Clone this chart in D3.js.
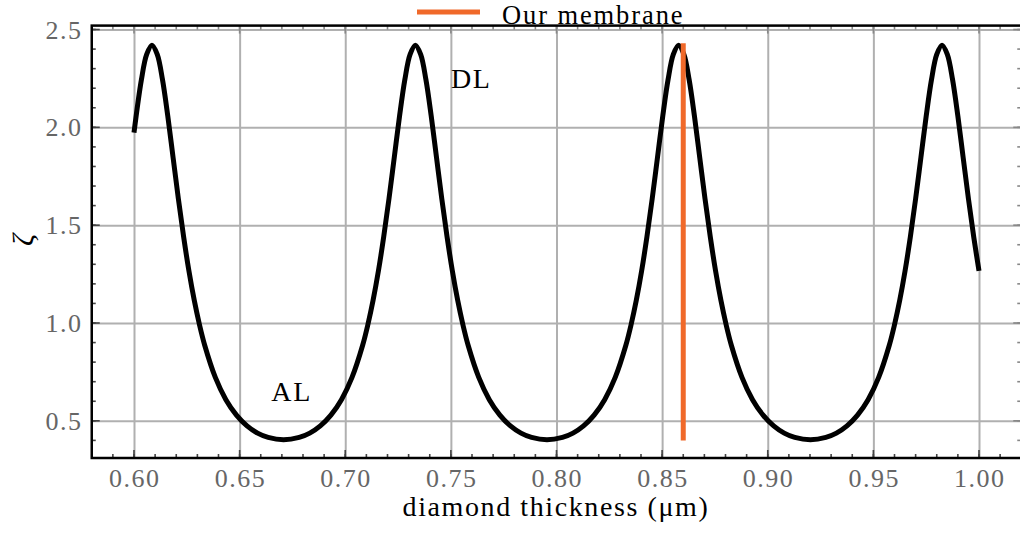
<!DOCTYPE html>
<html>
<head>
<meta charset="utf-8">
<script src="https://cdn.jsdelivr.net/npm/d3@7"></script>
<style>
  body { margin: 0; background: #fff; }
  svg { display: block; }
  text { font-family: "Liberation Serif", "Times New Roman", serif; }
</style>
</head>
<body>
<div class="chart"></div>
<script>
// curve: thickness (um) and zeta
var thickness = [
  0.6000, 0.6035, 0.6060, 0.6085, 0.6110, 0.6135, 0.6160, 0.6185, 0.6210, 0.6235, 0.6260, 0.6285,
  0.6310, 0.6335, 0.6385, 0.6435, 0.6485, 0.6535, 0.6585, 0.6635, 0.6708, 0.6782, 0.6832, 0.6882,
  0.6932, 0.6982, 0.7032, 0.7082, 0.7107, 0.7132, 0.7157, 0.7182, 0.7207, 0.7232, 0.7257, 0.7282,
  0.7307, 0.7332, 0.7357, 0.7382, 0.7407, 0.7432, 0.7457, 0.7482, 0.7507, 0.7532, 0.7557, 0.7582,
  0.7632, 0.7682, 0.7732, 0.7782, 0.7832, 0.7882, 0.7955, 0.8028, 0.8078, 0.8128, 0.8178, 0.8228,
  0.8278, 0.8328, 0.8353, 0.8378, 0.8403, 0.8428, 0.8453, 0.8478, 0.8503, 0.8528, 0.8553, 0.8578,
  0.8603, 0.8628, 0.8653, 0.8678, 0.8703, 0.8728, 0.8753, 0.8778, 0.8803, 0.8828, 0.8878, 0.8928,
  0.8978, 0.9028, 0.9078, 0.9128, 0.9202, 0.9275, 0.9325, 0.9375, 0.9425, 0.9475, 0.9525, 0.9575,
  0.9600, 0.9625, 0.9650, 0.9675, 0.9700, 0.9725, 0.9750, 0.9775, 0.9800, 0.9825, 0.9850, 0.9875,
  0.9900, 0.9925, 0.9950, 0.9975, 1.0000
];
var zeta = [
  1.973, 2.243, 2.373, 2.420, 2.373, 2.243, 2.057, 1.846, 1.635, 1.440, 1.266, 1.117,
  0.991, 0.885, 0.722, 0.608, 0.529, 0.474, 0.437, 0.415, 0.403, 0.415, 0.437, 0.474,
  0.529, 0.608, 0.722, 0.885, 0.991, 1.117, 1.266, 1.440, 1.635, 1.846, 2.057, 2.243,
  2.373, 2.420, 2.373, 2.243, 2.057, 1.846, 1.635, 1.440, 1.266, 1.117, 0.991, 0.885,
  0.722, 0.608, 0.529, 0.474, 0.437, 0.415, 0.403, 0.415, 0.437, 0.474, 0.529, 0.608,
  0.722, 0.885, 0.991, 1.117, 1.266, 1.440, 1.635, 1.846, 2.057, 2.243, 2.373, 2.420,
  2.373, 2.243, 2.057, 1.846, 1.635, 1.440, 1.266, 1.117, 0.991, 0.885, 0.722, 0.608,
  0.529, 0.474, 0.437, 0.415, 0.403, 0.415, 0.437, 0.474, 0.529, 0.608, 0.722, 0.885,
  0.991, 1.117, 1.266, 1.440, 1.635, 1.846, 2.057, 2.243, 2.373, 2.420, 2.373, 2.243,
  2.057, 1.846, 1.635, 1.440, 1.266
];

// our membrane marker
var membraneX = 0.86;
var membraneY = [0.40, 2.43];

var xTicks = [0.60, 0.65, 0.70, 0.75, 0.80, 0.85, 0.90, 0.95, 1.00];
var yTicks = [0.5, 1.0, 1.5, 2.0, 2.5];

// text annotations
var notes = [
  {label: "DL", x: 0.75, y: 2.2},
  {label: "AL", x: 0.665, y: 0.6}
];

var svgWidth = 1020;
var svgHeight = 537;

var margin = {top: 25.6, right: -1.25, bottom: 79, left: 91.75};
var width = svgWidth - margin.left - margin.right;
var height = svgHeight - margin.top - margin.bottom;

var orange = "#f0692a";

var svg = d3.select(".chart")
  .append("svg")
  .attr("width", svgWidth)
  .attr("height", svgHeight);

var chartGroup = svg.append("g")
  .attr("transform", `translate(${margin.left}, ${margin.top})`);

var xScale = d3.scaleLinear().domain([0.58, 1.02]).range([0, width]);
var yScale = d3.scaleLinear().domain([0.31, 2.52]).range([height, 0]);

var xMinor = d3.range(58, 103).map(d => d / 100);
var yMinor = d3.range(4, 26).map(d => d / 10);

// grid
chartGroup.append("g")
  .call(d3.axisBottom(xScale).tickValues(xTicks).tickSize(-height).tickFormat(""))
  .attr("transform", `translate(0, ${height})`)
  .call(g => g.select(".domain").remove())
  .selectAll("line").attr("stroke", "#b0b0b0").attr("stroke-width", 2);

chartGroup.append("g")
  .call(d3.axisLeft(yScale).tickValues(yTicks).tickSize(-width).tickFormat(""))
  .call(g => g.select(".domain").remove())
  .selectAll("line").attr("stroke", "#b0b0b0").attr("stroke-width", 2);

// tick marks, pointing inward on all four sides
function tickMarks(values, len, color, side) {
  var g = chartGroup.append("g");
  g.selectAll("line").data(values).enter().append("line")
    .attr("x1", d => side == "bottom" || side == "top" ? xScale(d) : (side == "left" ? 0 : width))
    .attr("x2", d => side == "bottom" || side == "top" ? xScale(d) : (side == "left" ? len : width - len))
    .attr("y1", d => side == "left" || side == "right" ? yScale(d) : (side == "bottom" ? height : 0))
    .attr("y2", d => side == "left" || side == "right" ? yScale(d) : (side == "bottom" ? height - len : len))
    .attr("stroke", color)
    .attr("stroke-width", 1.6);
}
tickMarks(xMinor, 4, "#444", "bottom");
tickMarks(xTicks, 8, "#444", "bottom");
tickMarks(yMinor, 4, "#444", "left");
tickMarks(yTicks, 8, "#444", "left");
tickMarks(xMinor, 4, "#888", "top");
tickMarks(xTicks, 8, "#888", "top");
tickMarks(yMinor, 4, "#888", "right");
tickMarks(yTicks, 8, "#888", "right");

// tick labels
chartGroup.append("g").selectAll("text").data(xTicks).enter().append("text")
  .attr("x", d => xScale(d) + 0.75)
  .attr("y", height + 29.5)
  .attr("text-anchor", "middle")
  .attr("font-size", 26)
  .attr("letter-spacing", 1.5)
  .attr("fill", "#666")
  .text(d => d3.format(".2f")(d));

chartGroup.append("g").selectAll("text").data(yTicks).enter().append("text")
  .attr("x", -9.25)
  .attr("y", d => yScale(d) + 9)
  .attr("text-anchor", "end")
  .attr("font-size", 26)
  .attr("letter-spacing", 1.5)
  .attr("fill", "#666")
  .text(d => d3.format(".1f")(d));

// curve
var points = thickness.map((t, i) => [t, zeta[i]]);
var line = d3.line()
  .x(d => xScale(d[0]))
  .y(d => yScale(d[1]))
  .curve(d3.curveCatmullRom);

chartGroup.append("path")
  .datum(points)
  .attr("d", line)
  .attr("fill", "none")
  .attr("stroke", "#000")
  .attr("stroke-width", 5)
  .attr("stroke-linejoin", "round");

// membrane line
chartGroup.append("line")
  .attr("x1", xScale(membraneX))
  .attr("x2", xScale(membraneX))
  .attr("y1", yScale(membraneY[0]))
  .attr("y2", yScale(membraneY[1]))
  .attr("stroke", orange)
  .attr("stroke-width", 5);

// annotations
chartGroup.selectAll(".note").data(notes).enter().append("text")
  .attr("class", "note")
  .attr("x", d => xScale(d.x))
  .attr("y", d => yScale(d.y))
  .attr("font-size", 28)
  .attr("letter-spacing", 1.6)
  .attr("fill", "#000")
  .text(d => d.label);

// spines
chartGroup.append("rect")
  .attr("width", width)
  .attr("height", height)
  .attr("fill", "none")
  .attr("stroke", "#000")
  .attr("stroke-width", 2.5);

// axis labels
svg.append("text")
  .attr("x", 556)
  .attr("y", 516)
  .attr("text-anchor", "middle")
  .attr("font-size", 28)
  .attr("letter-spacing", 1.6)
  .text("diamond thickness (\u03bcm)");

svg.append("text")
  .attr("transform", "translate(33, 240) rotate(-90)")
  .attr("text-anchor", "middle")
  .attr("font-size", 30)
  .attr("font-style", "italic")
  .text("\u03b6");

// legend
svg.append("line")
  .attr("x1", 417).attr("x2", 480)
  .attr("y1", 12).attr("y2", 12)
  .attr("stroke", orange)
  .attr("stroke-width", 5);

svg.append("text")
  .attr("x", 502)
  .attr("y", 23.7)
  .attr("font-size", 26.5)
  .attr("letter-spacing", 1.9)
  .text("Our membrane");
</script>
</body>
</html>
